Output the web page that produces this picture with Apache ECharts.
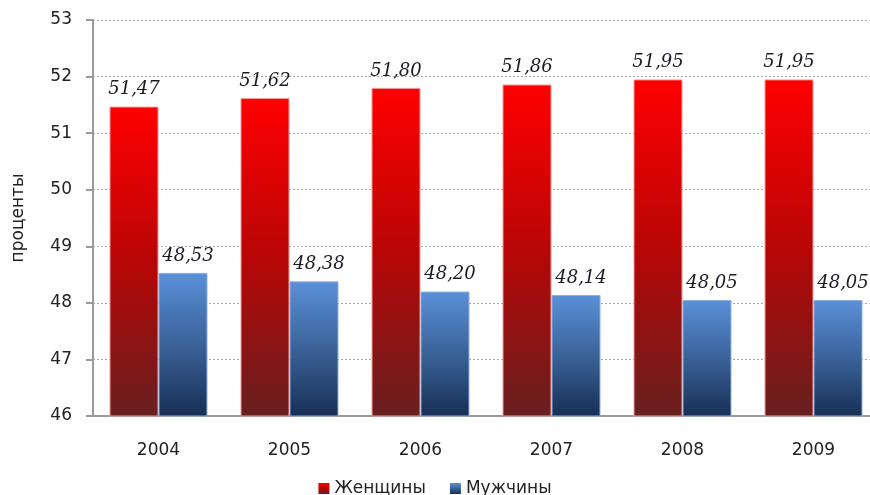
<!DOCTYPE html>
<html>
<head>
<meta charset="utf-8">
<script src="https://cdn.jsdelivr.net/npm/echarts@6/dist/echarts.min.js"></script>
<style>
  html, body { margin: 0; padding: 0; background: #fff; }
  #main { width: 870px; height: 495px; }
</style>
</head>
<body>
<div id="main"></div>
<script>
// данные
var years = ['2004', '2005', '2006', '2007', '2008', '2009']
var women = [51.47, 51.62, 51.80, 51.86, 51.95, 51.95]
var men = [48.53, 48.38, 48.20, 48.14, 48.05, 48.05]

var myChart = echarts.init(document.getElementById('main'))

function fmt(p) {
  return p.value.toFixed(2).replace('.', ',')
}

var labelStyle = {
  show: true,
  position: 'top',
  distance: 8,
  formatter: fmt,
  fontFamily: 'DejaVu Serif',
  fontStyle: 'italic',
  fontSize: 18,
  color: '#1a1a26'
}

var option = {
  animation: false,
  legend: {
    data: ['Женщины', 'Мужчины'],
    bottom: -7,
    left: 'center',
    icon: 'rect',
    itemWidth: 11,
    itemHeight: 11,
    itemGap: 24,
    itemStyle: { borderWidth: 0 },
    textStyle: { fontFamily: 'DejaVu Sans', fontSize: 17, color: '#222' }
  },
  grid: {
    left: 93,
    top: 20,
    width: 786,
    height: 396,
    outerBoundsMode: 'none'
  },
  xAxis: {
    type: 'category',
    data: years,
    axisLine: { lineStyle: { color: '#9a9a9a', width: 2 } },
    axisTick: { length: 8, lineStyle: { color: '#9a9a9a', width: 2 } },
    axisLabel: { margin: 26, fontFamily: 'DejaVu Sans', fontSize: 17, color: '#222' }
  },
  yAxis: {
    type: 'value',
    name: 'проценты',
    nameLocation: 'middle',
    nameGap: 66,
    nameRotate: 90,
    nameTextStyle: { fontFamily: 'DejaVu Sans', fontSize: 17, color: '#222' },
    min: 46,
    max: 53,
    interval: 1,
    axisLine: { show: true, lineStyle: { color: '#9a9a9a', width: 2 } },
    axisTick: { show: true, length: 7, lineStyle: { color: '#9a9a9a', width: 2 } },
    axisLabel: { margin: 21, fontFamily: 'DejaVu Sans', fontSize: 17, color: '#222' },
    splitLine: { show: true, lineStyle: { color: '#a8a8a8', type: [2, 2], width: 1 } }
  },
  series: [
    {
      name: 'Женщины',
      type: 'bar',
      data: women,
      barWidth: 49,
      barGap: '0%',
      itemStyle: {
        color: new echarts.graphic.LinearGradient(0, 0, 0, 1, [
          { offset: 0, color: '#ff0000' },
          { offset: 0.5, color: '#b80606' },
          { offset: 1, color: '#672020' }
        ]),
        borderColor: '#f49a9a',
        borderWidth: 1
      },
      label: labelStyle
    },
    {
      name: 'Мужчины',
      type: 'bar',
      data: men,
      barWidth: 49,
      itemStyle: {
        color: new echarts.graphic.LinearGradient(0, 0, 0, 1, [
          { offset: 0, color: '#5a90d8' },
          { offset: 0.5, color: '#3a6298' },
          { offset: 1, color: '#172f55' }
        ]),
        borderColor: '#8fb0de',
        borderWidth: 1
      },
      label: Object.assign({}, labelStyle, { offset: [5, 0] })
    }
  ]
}

myChart.setOption(option)
</script>
</body>
</html>
